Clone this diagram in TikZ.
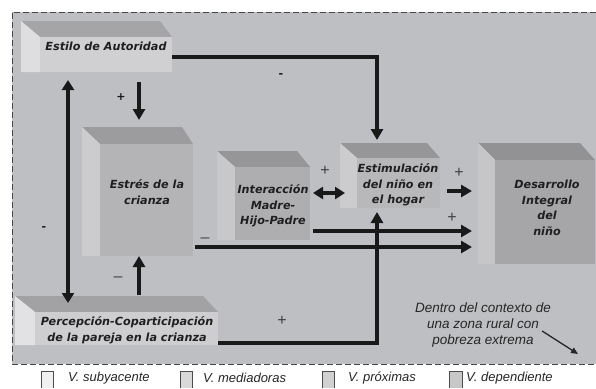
\documentclass[tikz,border=0pt]{standalone}
\usepackage{fontspec}
\setmainfont{DejaVu Sans}
\newfontfamily\legfont{Liberation Sans}
\usetikzlibrary{calc,arrows.meta,fit}
\definecolor{bgc}{RGB}{190,191,194}
\definecolor{dashc}{RGB}{70,70,72}
\definecolor{atop}{RGB}{165,165,168}\definecolor{aside}{RGB}{222,222,224}\definecolor{afront}{RGB}{208,208,210}
\definecolor{btop}{RGB}{156,156,159}\definecolor{bside}{RGB}{204,204,207}\definecolor{bfront}{RGB}{180,180,183}
\definecolor{ctop}{RGB}{150,150,153}\definecolor{cside}{RGB}{200,200,203}\definecolor{cfront}{RGB}{174,174,177}
\definecolor{dtop}{RGB}{150,150,153}\definecolor{dside}{RGB}{204,204,207}\definecolor{dfront}{RGB}{184,184,187}
\definecolor{etop}{RGB}{146,146,149}\definecolor{eside}{RGB}{198,198,201}\definecolor{efront}{RGB}{166,166,169}
\definecolor{ftop}{RGB}{162,162,165}\definecolor{fside}{RGB}{226,226,228}\definecolor{ffront}{RGB}{206,206,208}
\newcommand{\mycube}[9]{%
  \fill[#9top] (#2,#3) -- (#6,#3) -- (#7,#5) -- (#4,#5) -- cycle;
  \fill[#9side] (#2,#3) -- (#4,#5) -- (#4,#8) -- (#2,#8) -- cycle;
  \fill[#9front] (#4,#5) rectangle (#7,#8);
  \node[fit={(#2,#3) (#7,#8)}, inner sep=0pt, outer sep=0pt] (#1) {};
}
\tikzset{
  boxtext/.style={align=center, text=black!88, font=\fontsize{11.2}{15.5}\selectfont\bfseries\itshape, inner sep=0pt},
  legtext/.style={anchor=west, text=black!85, font=\legfont\fontsize{13}{16}\selectfont\itshape, inner sep=0pt},
  conn/.style={line width=3.6pt, draw=black!90, -{Triangle[length=11pt,width=12pt]}},
  dconn/.style={line width=3.6pt, draw=black!90, {Triangle[length=10pt,width=12pt]}-{Triangle[length=10pt,width=12pt]}},
  plain/.style={line width=3.6pt, draw=black!90},
  thinsign/.style={text=black!75, font=\legfont\fontsize{16}{16}\selectfont, inner sep=0pt},
  boldsign/.style={text=black!90, font=\fontsize{11}{11}\selectfont\bfseries, inner sep=0pt},
  legbox/.style={draw=black!70, line width=0.8pt},
}
\begin{document}
\begin{tikzpicture}[x=1pt,y=-1pt]
\useasboundingbox (0,0) rectangle (596,388);
\fill[white] (0,0) rectangle (596,388);
\fill[bgc] (12,12) rectangle (596,364);
\draw[dashc, line width=0.9pt, dash pattern=on 6pt off 3pt] (596,12) -- (12,12) -- (12,364) -- (596,364);

% cubes: name, L, T, FL, FT, BR, R, B, colour prefix
\mycube{estilo}{21}{21}{40}{37}{160}{172}{72}{a}
\mycube{estres}{82}{127}{100}{144}{182}{193}{256}{b}
\mycube{inter}{217}{151}{235}{167}{297}{310}{240}{c}
\mycube{estim}{340}{143}{357}{158}{427}{440}{208}{d}
\mycube{desar}{478}{143}{495}{160}{580}{595}{264}{e}
\mycube{percep}{15}{296}{35}{312}{203}{218}{345}{f}

\node[boxtext] (estiloT) at (106,46) {Estilo de Autoridad};
\node[boxtext] (estresT) at (147,192) {Estrés de la\\crianza};
\node[boxtext] (interT) at (273,206) {Interacción\\Madre-\\Hijo-Padre};
\node[boxtext] (estimT) at (398,185) {Estimulación\\del niño en\\el hogar};
\node[boxtext] (desarT) at (547,208) {Desarrollo\\Integral\\del\\niño};
\node[boxtext] (percepT) at (127,330) {Percepción-Coparticipación\\de la pareja en la crianza};

% connectors
\draw[conn] ($(estilo.south east)+(0,-15)$) -| ($(estim.north)+(-13,-3)$);
\draw[conn] ($(estilo.south)+(42.5,10)$) -- ($(estres.north)+(1.5,-7)$);
\draw[dconn] ($(estilo.south)+(-28.5,8)$) -- ($(percep.north)+(-48.5,7)$);
\draw[conn] ($(percep.north)+(22.5,-1)$) -- ($(estres.south)+(1.5,0)$);
\draw[dconn] ($(inter.east)+(3,-2.5)$) -- ($(estim.west)+(5,17.5)$);
\draw[conn] ($(estim.east)+(7,15.5)$) -- ($(desar.west)+(-6,-12.5)$);
\draw[conn] ($(inter.east)+(3,35.5)$) -- ($(desar.west)+(-6,27.5)$);
\draw[conn] ($(estres.east)+(2,55.5)$) -- ($(desar.west)+(-6,43.5)$);
\draw[conn] ($(percep.east)+(0,22.5)$) -| ($(estim.south)+(-13,4)$);

% signs
\node[boldsign] (s1) at (121,97) {+};
\node[boldsign] (s2) at (281,76) {-};
\node[boldsign] (s3) at (44,229) {-};
\node[thinsign] (s4) at (118,279) {–};
\node[thinsign] (s5) at (205,240) {–};
\node[thinsign] (s6) at (325,171) {+};
\node[thinsign] (s7) at (459,173) {+};
\node[thinsign] (s8) at (452,218) {+};
\node[thinsign] (s9) at (282,321) {+};

% context note
\node[align=center, text=black!85, font=\legfont\fontsize{13.5}{16}\selectfont\itshape, inner sep=0pt] (ctx) at (483,325)
  {Dentro del contexto de\\una zona rural con\\pobreza extrema};
\coordinate (ctxEnd) at (578,354);
\draw[line width=1.3pt, draw=black!85, -{Triangle[length=7pt,width=6pt]}] ($(ctx.east)+(-9,6)$) -- (ctxEnd);

% legend
\filldraw[legbox, fill=white!94!black] (41,388) -- (41,371) -- (53,371) -- (53,388);
\filldraw[legbox, fill=white!85!black] (180,388) -- (180,371) -- (192,371) -- (192,388);
\filldraw[legbox, fill=white!82!black] (322,388) -- (322,371) -- (334,371) -- (334,388);
\filldraw[legbox, fill=white!78!black] (449,388) -- (449,371) -- (462,371) -- (462,388);
\node[legtext] (l1) at (68,378) {V. subyacente};
\node[legtext] (l2) at (203,378) {V. mediadoras};
\node[legtext] (l3) at (348,378) {V. próximas};
\node[legtext] (l4) at (466,378) {V. dependiente};
\end{tikzpicture}
\end{document}
